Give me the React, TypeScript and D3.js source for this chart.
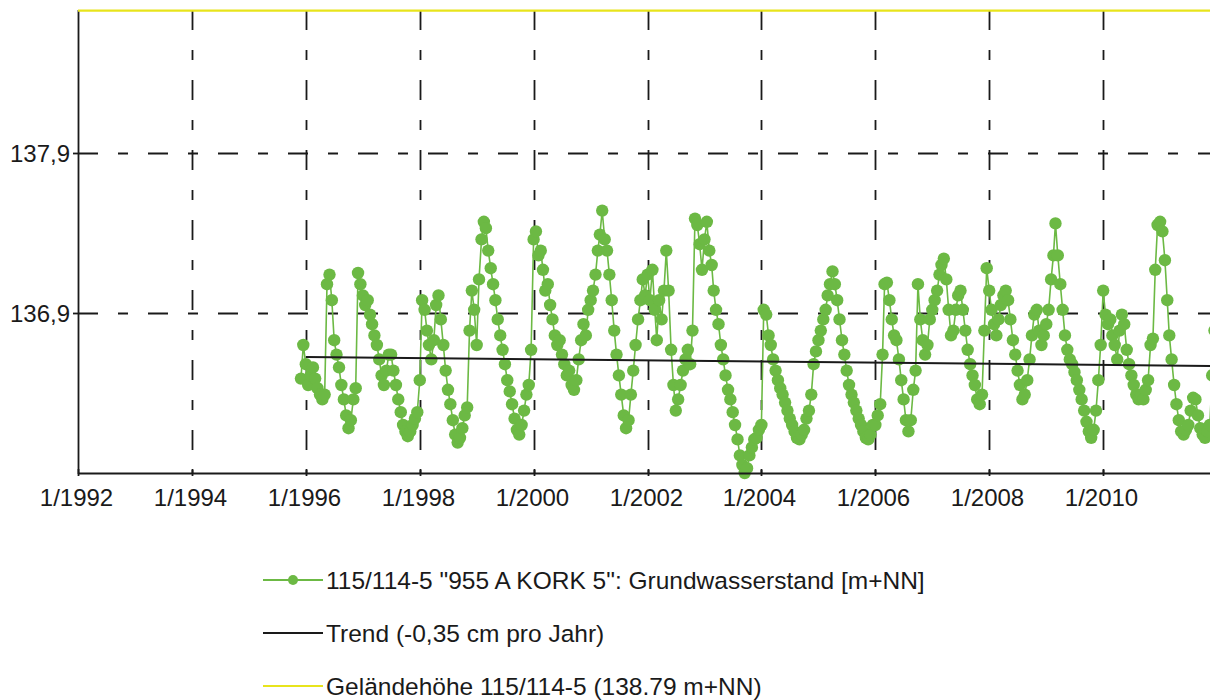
import React from "react";
import * as d3 from "d3";

// ---- data (values in m+NN, semi-monthly readings: 1st and 16th of each month) ----
const series1995Dec = [136.49, 136.70];
const series1996 = [136.58, 136.45, 136.51, 136.56, 136.49, 136.43, 136.39, 136.36, 136.39, 137.08, 137.14, 136.98, 136.73, 136.64, 136.56, 136.45, 136.36, 136.26, 136.18, 136.23, 136.36, 136.43, 137.15, 137.08];
const series1997 = [137.01, 136.95, 136.98, 136.89, 136.83, 136.76, 136.70, 136.61, 136.51, 136.45, 136.54, 136.64, 136.64, 136.54, 136.45, 136.36, 136.28, 136.20, 136.16, 136.13, 136.16, 136.20, 136.24, 136.28];
const series1998 = [136.48, 136.98, 136.92, 136.79, 136.70, 136.61, 136.73, 136.95, 137.01, 136.86, 136.70, 136.54, 136.42, 136.33, 136.23, 136.14, 136.09, 136.12, 136.18, 136.26, 136.31, 136.79, 137.04, 136.92];
const series1999 = [136.70, 137.11, 137.36, 137.47, 137.43, 137.29, 137.18, 137.08, 136.98, 136.86, 136.76, 136.67, 136.58, 136.48, 136.41, 136.33, 136.24, 136.17, 136.14, 136.20, 136.29, 136.39, 136.45, 136.67];
const series2000 = [137.36, 137.41, 137.26, 137.29, 137.17, 137.04, 137.08, 136.95, 136.86, 136.76, 136.70, 136.73, 136.64, 136.58, 136.51, 136.54, 136.45, 136.42, 136.48, 136.61, 136.73, 136.83, 136.76, 136.92];
const series2001 = [136.98, 137.04, 137.14, 137.29, 137.39, 137.54, 137.36, 137.29, 137.14, 136.98, 136.79, 136.64, 136.51, 136.39, 136.26, 136.18, 136.23, 136.39, 136.54, 136.70, 136.86, 136.98, 137.11, 137.01];
const series2002 = [137.14, 136.98, 137.17, 136.92, 136.73, 136.98, 136.86, 137.04, 137.29, 137.04, 136.67, 136.45, 136.29, 136.36, 136.45, 136.54, 136.61, 136.67, 136.58, 136.79, 137.49, 137.45, 137.33, 137.17];
const series2003 = [137.36, 137.47, 137.29, 137.20, 137.04, 136.92, 136.83, 136.70, 136.61, 136.51, 136.42, 136.36, 136.28, 136.20, 136.11, 136.01, 135.95, 135.90, 135.93, 136.01, 136.06, 136.11, 136.12, 136.17];
const series2004 = [136.20, 136.92, 136.89, 136.76, 136.70, 136.61, 136.54, 136.48, 136.43, 136.39, 136.34, 136.29, 136.24, 136.20, 136.16, 136.12, 136.11, 136.14, 136.17, 136.24, 136.29, 136.39, 136.58, 136.66];
const series2005 = [136.73, 136.79, 136.86, 136.92, 137.01, 137.08, 137.16, 137.08, 136.98, 136.86, 136.73, 136.64, 136.54, 136.45, 136.39, 136.34, 136.29, 136.24, 136.20, 136.16, 136.12, 136.11, 136.14, 136.20];
const series2006 = [136.20, 136.26, 136.33, 136.64, 137.08, 137.09, 136.98, 136.86, 136.76, 136.73, 136.61, 136.48, 136.36, 136.23, 136.16, 136.23, 136.42, 136.54, 137.08, 136.86, 136.73, 136.64, 136.70, 136.86];
const series2007 = [136.92, 136.98, 137.04, 137.14, 137.20, 137.24, 137.11, 136.92, 136.76, 136.79, 136.92, 137.01, 137.04, 136.92, 136.79, 136.67, 136.58, 136.51, 136.45, 136.36, 136.33, 136.39, 136.79, 137.18];
const series2008 = [137.04, 136.92, 136.83, 136.76, 136.86, 136.95, 137.01, 137.04, 136.98, 136.86, 136.73, 136.64, 136.54, 136.45, 136.36, 136.39, 136.48, 136.61, 136.76, 136.89, 136.92, 136.79, 136.70, 136.76];
const series2009 = [136.83, 136.92, 137.11, 137.26, 137.46, 137.26, 137.08, 136.92, 136.76, 136.67, 136.61, 136.58, 136.53, 136.48, 136.42, 136.36, 136.29, 136.22, 136.16, 136.12, 136.17, 136.29, 136.48, 136.70];
const series2010 = [137.04, 136.89, 136.83, 136.86, 136.76, 136.70, 136.61, 136.79, 136.89, 136.83, 136.67, 136.58, 136.51, 136.45, 136.39, 136.36, 136.39, 136.36, 136.42, 136.48, 136.70, 136.74, 137.17, 137.45];
const series2011 = [137.47, 137.41, 137.23, 136.98, 136.76, 136.61, 136.45, 136.33, 136.23, 136.16, 136.14, 136.17, 136.20, 136.29, 136.37, 136.36, 136.26, 136.18, 136.14, 136.12, 136.16, 136.20, 136.51, 136.79];

const yearlySeries: [number, number[]][] = [
  [1996, series1996], [1997, series1997], [1998, series1998], [1999, series1999],
  [2000, series2000], [2001, series2001], [2002, series2002], [2003, series2003],
  [2004, series2004], [2005, series2005], [2006, series2006], [2007, series2007],
  [2008, series2008], [2009, series2009], [2010, series2010], [2011, series2011],
];

// Trend (-0,35 cm pro Jahr)
const trendDates = ["1996-01-01", "2012-01-01"];
const trendValues = [136.625, 136.569];

// Geländehöhe
const groundLevel = 138.79;

// axes
const xTickYears = [1992, 1994, 1996, 1998, 2000, 2002, 2004, 2006, 2008, 2010];
const xTickLabels = ["1/1992", "1/1994", "1/1996", "1/1998", "1/2000", "1/2002", "1/2004", "1/2006", "1/2008", "1/2010"];
const yTickValues = [136.9, 137.9];
const yTickLabels = ["136,9", "137,9"];

const legendLabels = [
  '115/114-5 "955 A KORK 5": Grundwasserstand [m+NN]',
  "Trend (-0,35 cm pro Jahr)",
  "Geländehöhe 115/114-5 (138.79 m+NN)",
];

const GREEN = "#6cb944";
const YELLOW = "#e8e41c";
const INK = "#1a1a1a";
const FONT = "'Liberation Sans', Arial, sans-serif";

type P = { date: Date; value: number };

export default function App() {
  const W = 1210, H = 700;
  const left = 78, bottom = 473, top = 10;
  const x = d3.scaleTime().domain([new Date(1992, 0, 1), new Date(2012, 0, 1)]).range([78, 1217]);
  const y = d3.scaleLinear().domain([135.9, 137.9]).range([473, 153]);

  const points: P[] = [];
  series1995Dec.forEach((v, i) => points.push({ date: new Date(1995, 11, i === 0 ? 1 : 16), value: v }));
  yearlySeries.forEach(([yr, vals]) => {
    vals.forEach((v, i) => points.push({ date: new Date(yr, Math.floor(i / 2), i % 2 === 0 ? 1 : 16), value: v }));
  });

  const line = d3.line<P>().x((d) => x(d.date)).y((d) => y(d.value));
  const trendPts: P[] = trendDates.map((d, i) => ({ date: new Date(d + "T00:00:00"), value: trendValues[i] }));

  const dash = "20,20,10,20";
  const legendY = [580, 633, 686];
  const gridYears = [...xTickYears.slice(1), 2012];

  return (
    <svg width={W} height={H} style={{ position: "absolute", left: 0, top: 0, display: "block", background: "#fff" }}>
      <rect x={0} y={0} width={W} height={H} fill="#fff" />
      {/* grid */}
      {gridYears.map((yr) => {
        const xx = Math.round(x(new Date(yr, 0, 1))) + 0.5;
        return <line key={"vg" + yr} x1={xx} x2={xx} y1={top} y2={bottom} stroke={INK} strokeWidth={1.8} strokeDasharray={dash} />;
      })}
      {yTickValues.map((v) => {
        const yy = Math.round(y(v)) + 0.5;
        return <line key={"hg" + v} x1={left} x2={W + 20} y1={yy} y2={yy} stroke={INK} strokeWidth={1.8} strokeDasharray={dash} />;
      })}
      {/* series */}
      <path d={line(points) || ""} fill="none" stroke={GREEN} strokeWidth={1.6} />
      {points.map((p, i) => (
        <circle key={i} cx={x(p.date)} cy={y(p.value)} r={6.2} fill={GREEN} />
      ))}
      {/* trend */}
      <path d={line(trendPts) || ""} fill="none" stroke={INK} strokeWidth={2} />
      {/* axes */}
      <line x1={left + 0.5} x2={left + 0.5} y1={top} y2={bottom + 1} stroke={INK} strokeWidth={1.8} />
      <line x1={left} x2={W + 20} y1={bottom + 0.5} y2={bottom + 0.5} stroke={INK} strokeWidth={2} />
      {yTickValues.map((v, i) => {
        const yy = Math.round(y(v)) + 0.5;
        return (
          <g key={"yt" + v}>
            <line x1={left - 5} x2={left} y1={yy} y2={yy} stroke={INK} strokeWidth={1.8} />
            <text x={70} y={yy} dy="0.36em" textAnchor="end" fontFamily={FONT} fontSize={24} fill={INK}>
              {yTickLabels[i]}
            </text>
          </g>
        );
      })}
      {xTickYears.map((yr, i) => {
        const xx = Math.round(x(new Date(yr, 0, 1))) + 0.5;
        return (
          <g key={"xt" + yr}>
            <line x1={xx} x2={xx} y1={bottom - 4} y2={bottom + 3} stroke={INK} strokeWidth={1.8} />
            <text x={xx - 2} y={506} textAnchor="middle" fontFamily={FONT} fontSize={24} fill={INK}>
              {xTickLabels[i]}
            </text>
          </g>
        );
      })}
      {/* ground level */}
      <line x1={left} x2={W + 20} y1={y(groundLevel)} y2={y(groundLevel)} stroke={YELLOW} strokeWidth={2.2} />
      {/* legend */}
      <line x1={263} x2={323} y1={legendY[0]} y2={legendY[0]} stroke={GREEN} strokeWidth={2} />
      <circle cx={293} cy={legendY[0]} r={5} fill={GREEN} />
      <line x1={263} x2={323} y1={legendY[1]} y2={legendY[1]} stroke={INK} strokeWidth={2} />
      <line x1={263} x2={323} y1={legendY[2]} y2={legendY[2]} stroke={YELLOW} strokeWidth={2} />
      {legendLabels.map((t, i) => (
        <text key={t} x={326} y={legendY[i] + 9} fontFamily={FONT} fontSize={24.5} fill={INK}>
          {t}
        </text>
      ))}
    </svg>
  );
}
